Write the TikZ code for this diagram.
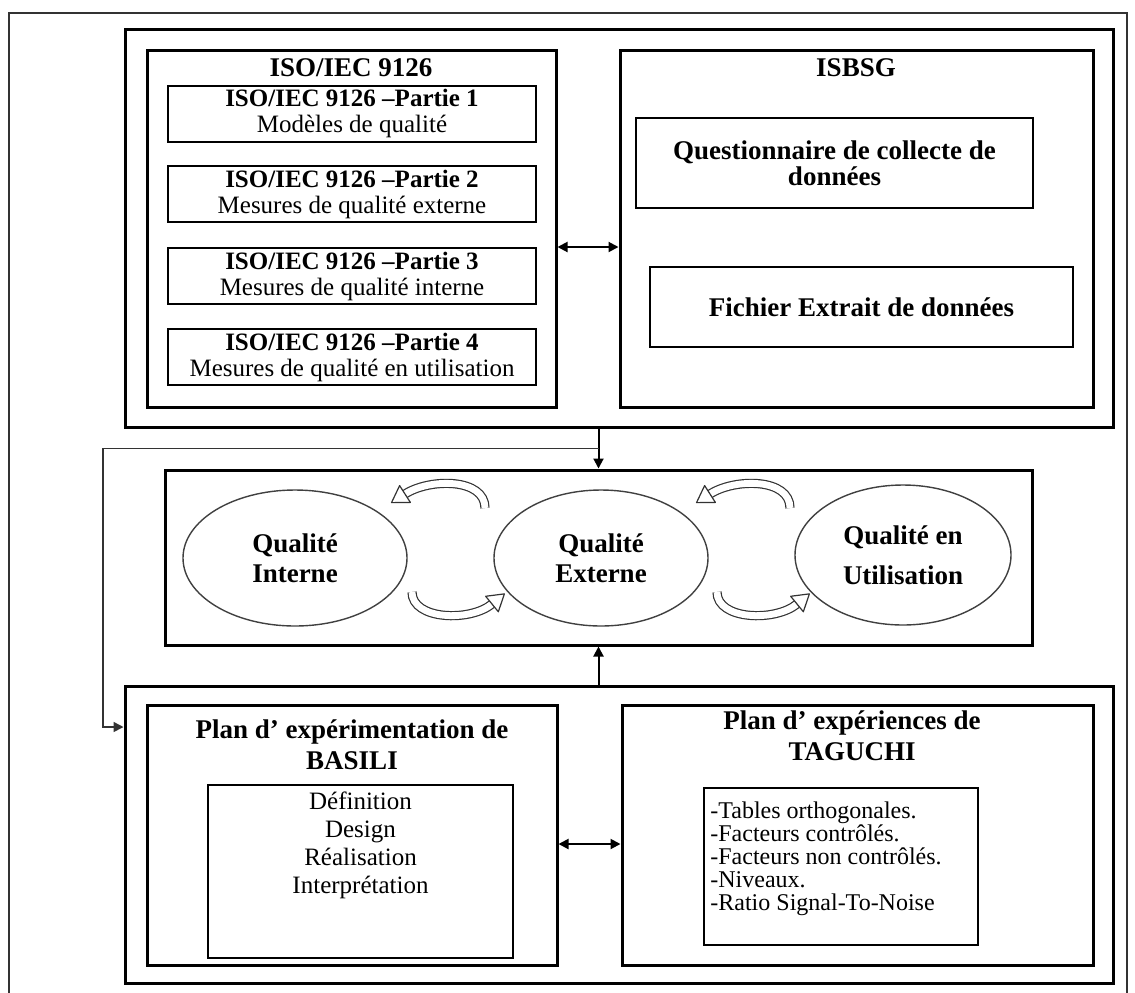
\documentclass[tikz,border=0pt]{standalone}
\usepackage{fontspec}
\setmainfont{Liberation Serif}
\usetikzlibrary{arrows.meta,calc,shapes.geometric}

% curved block arrow: tail, two controls, base of the head
\newcommand{\bendarrow}[4]{%
  \draw[band] #1 .. controls #2 and #3 .. #4;
  \draw[headtip] ($#4!5pt!90:#3$) -- ($#4!-8pt!#3$) -- ($#4!5pt!-90:#3$) -- cycle;
}

\begin{document}
\begin{tikzpicture}[x=0.5pt,y=-0.5pt,
    every node/.style={font=\fontsize{12.5}{12}\selectfont},
    frame/.style={draw,line width=1.5pt,inner sep=0pt},
    box/.style={draw,line width=1pt,inner sep=0pt,align=center},
    title/.style={align=center,font=\fontsize{13.5}{15.5}\selectfont\bfseries},
    oval/.style={ellipse,draw=black!75,line width=0.7pt,inner sep=0pt,align=center,
                 font=\fontsize{13.5}{15}\selectfont\bfseries},
    arrow/.style={line width=1pt,-{Triangle[length=5pt,width=5pt]}},
    dblarrow/.style={line width=1pt,{Triangle[length=5pt,width=5pt]}-{Triangle[length=5pt,width=5pt]}},
    band/.style={draw=black!80,line width=0.6pt,double=white,double distance=3.4pt},
    headtip/.style={draw=black!80,fill=white,line width=0.6pt,line join=round}]

\useasboundingbox (0,0) rectangle (1135,992);
\draw[black!80,line width=0.8pt] (9,13) rectangle (1127,1000);

% top: norms and data
\node[frame,minimum width=494pt,minimum height=199pt] (top) at (619,228) {};
\node[frame,minimum width=204.5pt,minimum height=178.5pt] (iso) at (351.5,228.5) {};
\node[frame,minimum width=236.5pt,minimum height=178.5pt] (isbsg) at (856.5,228.5) {};
\node[title] (isotitle) at (351,68) {ISO/IEC 9126};
\node[title] (isbsgtitle) at (856,68) {ISBSG};

\begin{scope}[every node/.style={box,minimum width=184pt,minimum height=28pt,
                                  font=\fontsize{12.5}{13}\selectfont}]
    \node (p1) at (352,113.5) {\textbf{ISO/IEC 9126 –Partie 1}\\Modèles de qualité};
    \node (p2) at (352,194) {\textbf{ISO/IEC 9126 –Partie 2}\\Mesures de qualité externe};
    \node (p3) at (352,276) {\textbf{ISO/IEC 9126 –Partie 3}\\Mesures de qualité interne};
    \node (p4) at (352,357) {\textbf{ISO/IEC 9126 –Partie 4}\\Mesures de qualité en utilisation};
\end{scope}

\node[box,minimum width=198.5pt,minimum height=45pt,font=\fontsize{13.5}{13}\selectfont\bfseries]
    (quest) at (834.5,163) {Questionnaire de collecte de\\données};
\node[box,minimum width=211.5pt,minimum height=40pt,font=\fontsize{13.5}{13}\selectfont\bfseries]
    (fichier) at (861.5,307) {Fichier Extrait de données};

% middle: quality views
\node[frame,minimum width=433.5pt,minimum height=87.5pt] (qual) at (598.5,557.5) {};
\node[oval,minimum width=112pt,minimum height=68pt] (qint) at (295,558) {Qualité\\Interne};
\node[oval,minimum width=107pt,minimum height=68pt] (qext) at (601,558) {Qualité\\Externe};
\node[oval,minimum width=108pt,minimum height=70pt,font=\fontsize{13.5}{20}\selectfont\bfseries]
    (qutil) at (903,555) {Qualité en\\Utilisation};

\bendarrow{(485,508)}{(485,478)}{(430,478)}{(405,494)}
\bendarrow{(412,592)}{(412,620)}{(470,622)}{(492,604)}
\bendarrow{(790,508)}{(790,478)}{(735,478)}{(710,494)}
\bendarrow{(717,592)}{(717,620)}{(775,622)}{(797,604)}

% bottom: experiment plans
\node[frame,minimum width=494pt,minimum height=148.5pt] (plans) at (619,834.5) {};
\node[frame,minimum width=205pt,minimum height=130pt] (basili) at (352,835) {};
\node[frame,minimum width=235.5pt,minimum height=130pt] (taguchi) at (857.5,835) {};
\node[title] (basilititle) at (352,745) {Plan d' expérimentation de\\BASILI};
\node[title] (taguchititle) at (852,736) {Plan d' expériences de\\TAGUCHI};

\node[box,minimum width=152.5pt,minimum height=86.5pt] (blist) at (360.5,871.5) {};
\node[anchor=north,align=center,font=\fontsize{12.5}{14}\selectfont,inner sep=2pt] (blisttext) at (360.5,787)
    {Définition\\Design\\Réalisation\\Interprétation};
\node[box,minimum width=137pt,minimum height=78.5pt] (tlist) at (841,866.5) {};
\node[anchor=north west,align=left,font=\fontsize{12}{11.5}\selectfont,inner sep=2pt] (tlisttext) at (706,797)
    {-Tables orthogonales.\\-Facteurs contrôlés.\\-Facteurs non contrôlés.\\-Niveaux.\\-Ratio Signal-To-Noise};

% connectors
\coordinate (fbsplit) at ($(qual.north |- top.south)!0.5!(qual.north)$);
\coordinate (fbleft) at (103,448.5);
\coordinate (fbin) at ($(plans.west)+(0,-107.5)$);

\draw[dblarrow] ($(iso.east)+(0,18.5)$) -- ($(isbsg.west)+(0,18.5)$);
\draw[arrow] (qual.north |- top.south) -- (qual.north);
\draw[line width=0.8pt,black!80,-{Triangle[length=5pt,width=5pt]}] (fbsplit) -- (fbleft) |- (fbin);
\draw[arrow] (qual.south |- plans.north) -- (qual.south);
\draw[dblarrow] ($(basili.east)+(0,9)$) -- ($(taguchi.west)+(0,9)$);
\end{tikzpicture}
\end{document}
